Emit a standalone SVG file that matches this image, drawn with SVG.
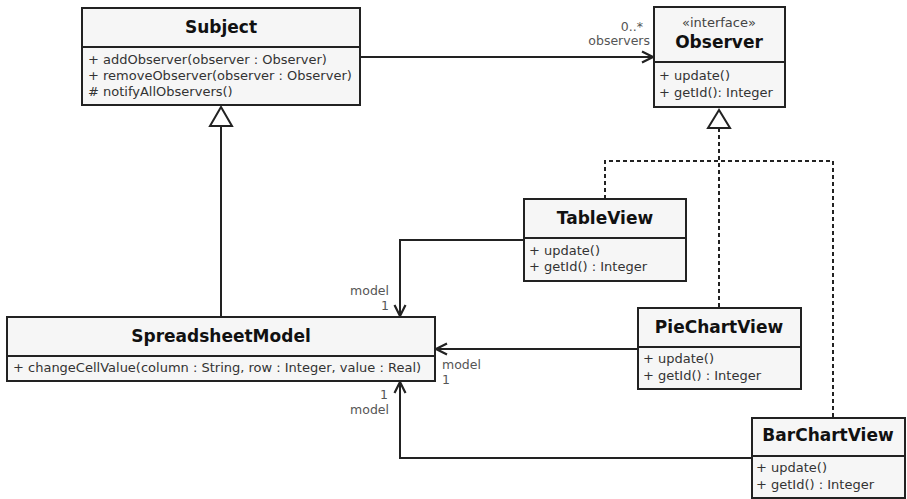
<svg xmlns="http://www.w3.org/2000/svg" width="907" height="499" viewBox="0 0 907 499">
<defs>
<style>
.box{fill:#f6f6f6;stroke:#222;stroke-width:2}
.div{stroke:#222;stroke-width:2}
.title{font-family:"DejaVu Sans",sans-serif;font-weight:bold;font-size:17px;fill:#111;text-anchor:middle}
.st{font-family:"DejaVu Sans",sans-serif;font-size:13px;fill:#444;text-anchor:middle}
.m{font-family:"DejaVu Sans",sans-serif;font-size:13px;fill:#333}
.lbl{font-family:"DejaVu Sans",sans-serif;font-size:12.5px;fill:#555}
.end{text-anchor:end}
.c{fill:none;stroke:#222;stroke-width:2}
.d{fill:none;stroke:#222;stroke-width:2;stroke-dasharray:4 3}
.tri{fill:#fff;stroke:#222;stroke-width:2;stroke-linejoin:miter}
</style>
<marker id="open" markerWidth="14" markerHeight="14" refX="12" refY="7" orient="auto" markerUnits="userSpaceOnUse">
<path d="M1,1.5 L12,7 L1,12.5" fill="none" stroke="#222" stroke-width="2.2"/>
</marker>
</defs>
<rect width="907" height="499" fill="#fff"/>
<g id="connectors">
<line class="c" x1="360" y1="57" x2="653" y2="57" marker-end="url(#open)"/>
<line class="c" x1="221" y1="126" x2="221" y2="317"/>
<polygon class="tri" points="221,107 210,126 232,126"/>
<line class="d" x1="719" y1="128" x2="719" y2="308"/>
<polyline class="d" points="605,199 605,161 833,161 833,418"/>
<polygon class="tri" points="719,110 708,128 730,128"/>
<polyline class="c" points="524,240 400,240 400,316" marker-end="url(#open)"/>
<line class="c" x1="638" y1="349" x2="436" y2="349" marker-end="url(#open)"/>
<polyline class="c" points="752,458 400,458 400,382" marker-end="url(#open)"/>
<text class="lbl end" x="643" y="31">0..*</text>
<text class="lbl end" x="650" y="45">observers</text>
<text class="lbl end" x="389" y="295">model</text>
<text class="lbl end" x="389" y="310">1</text>
<text class="lbl" x="442" y="369">model</text>
<text class="lbl" x="442" y="384">1</text>
<text class="lbl end" x="388" y="399">1</text>
<text class="lbl end" x="389" y="414">model</text>
</g>
<g id="Subject">
<rect class="box" x="82" y="8" width="278" height="97"/>
<line class="div" x1="82" y1="47" x2="360" y2="47"/>
<text class="title" x="221" y="33">Subject</text>
<text class="m" x="88" y="64">+ addObserver(observer : Observer)</text>
<text class="m" x="88" y="80">+ removeObserver(observer : Observer)</text>
<text class="m" x="88" y="96"># notifyAllObservers()</text>
</g>
<g id="Observer">
<rect class="box" x="654" y="7" width="131" height="100"/>
<line class="div" x1="654" y1="62" x2="785" y2="62"/>
<text class="st" x="719" y="27">«interface»</text>
<text class="title" x="719" y="48">Observer</text>
<text class="m" x="659" y="80">+ update()</text>
<text class="m" x="659" y="97">+ getId(): Integer</text>
</g>
<g id="TableView">
<rect class="box" x="524" y="199" width="162" height="82"/>
<line class="div" x1="524" y1="238" x2="686" y2="238"/>
<text class="title" x="605" y="224">TableView</text>
<text class="m" x="529" y="255">+ update()</text>
<text class="m" x="529" y="271">+ getId() : Integer</text>
</g>
<g id="SpreadsheetModel">
<rect class="box" x="7" y="317" width="428" height="64"/>
<line class="div" x1="7" y1="356" x2="435" y2="356"/>
<text class="title" x="221" y="342">SpreadsheetModel</text>
<text class="m" x="13" y="372">+ changeCellValue(column : String, row : Integer, value : Real)</text>
</g>
<g id="PieChartView">
<rect class="box" x="638" y="308" width="163" height="81"/>
<line class="div" x1="638" y1="347" x2="801" y2="347"/>
<text class="title" x="719" y="333">PieChartView</text>
<text class="m" x="643" y="363">+ update()</text>
<text class="m" x="643" y="380">+ getId() : Integer</text>
</g>
<g id="BarChartView">
<rect class="box" x="752" y="418" width="153" height="80"/>
<line class="div" x1="752" y1="456" x2="905" y2="456"/>
<text class="title" x="828" y="441">BarChartView</text>
<text class="m" x="756" y="472">+ update()</text>
<text class="m" x="756" y="489">+ getId() : Integer</text>
</g>
</svg>
